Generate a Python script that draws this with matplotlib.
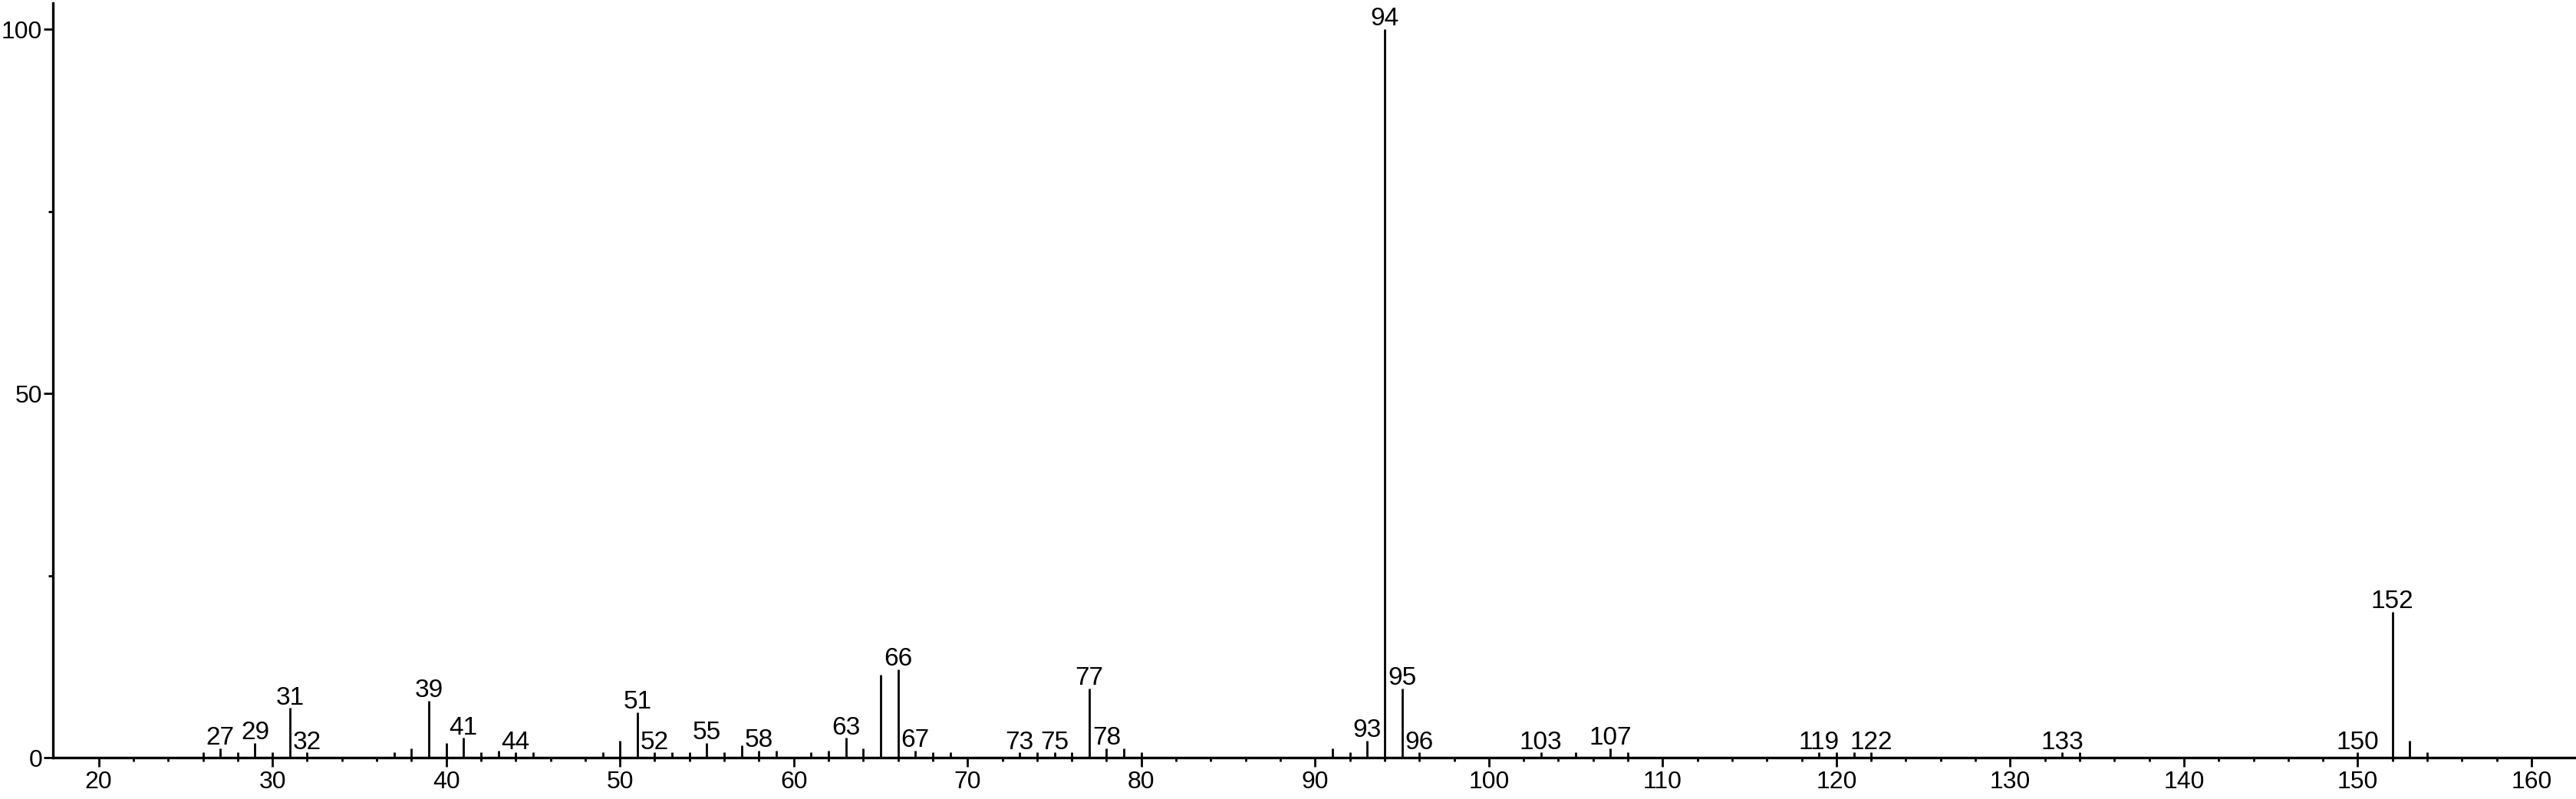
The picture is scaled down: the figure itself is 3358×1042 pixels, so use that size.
import numpy as np
import matplotlib
matplotlib.use('Agg')
import matplotlib.pyplot as plt

plt.rcParams['font.family'] = ['Liberation Sans', 'DejaVu Sans']

# m/z and relative intensity (%)
mz = [26, 27, 28, 29, 30, 31, 32, 37, 38, 39, 40, 41, 42, 43, 44, 45,
      49, 50, 51, 52, 53, 54, 55, 56, 57, 58, 59,
      61, 62, 63, 64, 65, 66, 67, 68, 69,
      73, 74, 75, 76, 77, 78, 79, 80,
      91, 92, 93, 94, 95, 96,
      103, 105, 107, 108, 119, 120, 121, 122,
      133, 134, 150, 152, 153, 154]
intensity = [0.7, 1.3, 0.7, 2.0, 0.7, 6.8, 0.7, 0.7, 1.3, 7.8, 2.0, 2.7, 0.7, 1.0, 0.7, 0.7,
             0.7, 2.3, 6.2, 0.7, 0.7, 0.7, 2.0, 0.7, 1.7, 1.0, 1.0,
             0.7, 1.0, 2.7, 1.3, 11.4, 12.1, 1.0, 0.7, 0.7,
             0.7, 0.7, 0.7, 0.7, 9.5, 1.3, 1.3, 0.7,
             1.3, 0.7, 2.3, 100.0, 9.5, 0.7,
             0.7, 0.7, 1.3, 0.7, 0.7, 0.7, 0.7, 0.7,
             0.7, 0.7, 0.7, 20.0, 2.3, 0.7]

# peaks that carry an m/z label
labelled = [27, 29, 31, 32, 39, 41, 44, 51, 52, 55, 58, 63, 66, 67, 73, 75,
            77, 78, 93, 94, 95, 96, 103, 107, 119, 122, 133, 150, 152]

x_major = np.arange(20, 161, 10)
x_minor = np.arange(20, 161, 2)
y_major = [0, 50, 100]
y_minor = [25, 75]

fig = plt.figure(figsize=(33.58, 10.42), dpi=100)
ax = fig.add_axes([0.02055, 0.0518, 0.97945, 0.9443])

ax.vlines(mz, 0, intensity, color='black', linewidth=2.0)

for m, inten in zip(mz, intensity):
    if m in labelled:
        ax.annotate(str(m), (m, inten), xytext=(0, 3.5), textcoords='offset points',
                    ha='center', va='baseline', fontsize=24, clip_on=False)

ax.set_xlim(17.37, 162.56)
ax.set_ylim(0, 103.6)

ax.set_xticks(x_major)
ax.set_xticks(x_minor, minor=True)
ax.set_yticks(y_major)
ax.set_yticks(y_minor, minor=True)

ax.spines['top'].set_visible(False)
ax.spines['right'].set_visible(False)
ax.spines['left'].set_linewidth(2.4)
ax.spines['bottom'].set_linewidth(2.4)

ax.tick_params(axis='x', which='major', length=8.5, width=2.0, labelsize=23, pad=4)
ax.tick_params(axis='x', which='minor', length=3.6, width=2.0)
ax.tick_params(axis='y', which='major', length=8.5, width=2.0, labelsize=23, pad=1.5)
ax.tick_params(axis='y', which='minor', length=4.5, width=2.0)

fig.savefig('out.png', dpi=100, facecolor='white')
